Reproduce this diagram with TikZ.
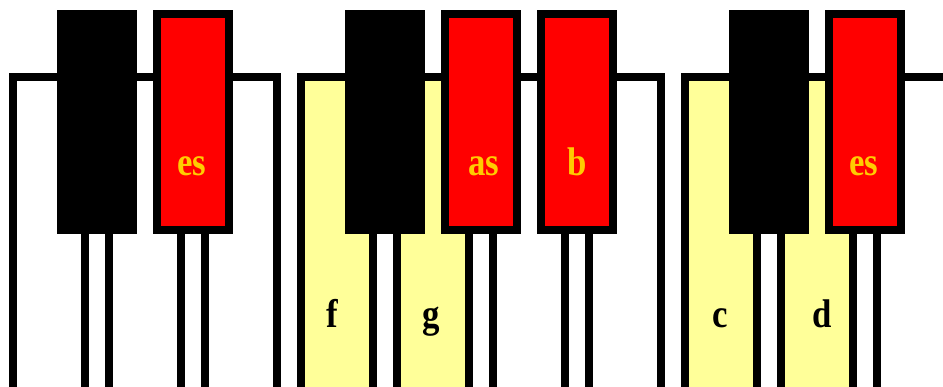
\documentclass[tikz,border=0pt]{standalone}
\usepackage{fontspec}
\setmainfont{Liberation Serif}
\definecolor{keyyellow}{HTML}{FFFF99}
\definecolor{keyred}{HTML}{FF0000}
\definecolor{labgold}{HTML}{FFCC00}
\tikzset{
  whitekey/.style={draw=black, fill=white, line width=8pt, minimum width=72pt, minimum height=339pt, inner sep=0pt, outer sep=0pt},
  blackkey/.style={draw=black, fill=black, line width=8pt, minimum width=72pt, minimum height=216pt, inner sep=0pt, outer sep=0pt},
  redkey/.style={blackkey, fill=keyred},
  keylabel/.style={anchor=base, inner sep=0pt, font=\fontsize{40}{40}\selectfont\bfseries},
  redlabel/.style={keylabel, text=labgold},
  blacklabel/.style={keylabel, text=black}
}
\newcommand{\sq}[1]{\scalebox{0.87}[1]{#1}}
\begin{document}
\begin{tikzpicture}[x=1pt, y=-1pt]
\useasboundingbox (0,0) rectangle (943,387);
\clip (0,0) rectangle (943,387);
\fill[white] (0,0) rectangle (943,387);
% white keys
\node[whitekey] (w1) at (49,246.5) {};
\node[whitekey] (w2) at (145,246.5) {};
\node[whitekey] (w3) at (241,246.5) {};
\node[whitekey, fill=keyyellow] (w4) at (337,246.5) {};
\node[whitekey, fill=keyyellow] (w5) at (433,246.5) {};
\node[whitekey] (w6) at (529,246.5) {};
\node[whitekey] (w7) at (625,246.5) {};
\node[whitekey, fill=keyyellow] (w8) at (721,246.5) {};
\node[whitekey, fill=keyyellow] (w9) at (817,246.5) {};
\node[whitekey] (w10) at (913,246.5) {};
% black keys
\node[blackkey] (b1) at (97,122.5) {};
\node[redkey] (b2) at (193,122.5) {};
\node[blackkey] (b3) at (385,122.5) {};
\node[redkey] (b4) at (481,122.5) {};
\node[redkey] (b5) at (577,122.5) {};
\node[blackkey] (b6) at (769,122.5) {};
\node[redkey] (b7) at (865,122.5) {};
% labels
\node[redlabel] (l1) at (192,175.5) {\sq{es}};
\node[redlabel] (l2) at (484,175.5) {\sq{as}};
\node[redlabel] (l3) at (577,175.5) {\sq{b}};
\node[redlabel] (l4) at (864,175.5) {\sq{es}};
\node[blacklabel] (l5) at (332,328) {\sq{f}};
\node[blacklabel] (l6) at (431,328) {\sq{g}};
\node[blacklabel] (l7) at (720,328) {\sq{c}};
\node[blacklabel] (l8) at (822,328) {\sq{d}};
\end{tikzpicture}
\end{document}
